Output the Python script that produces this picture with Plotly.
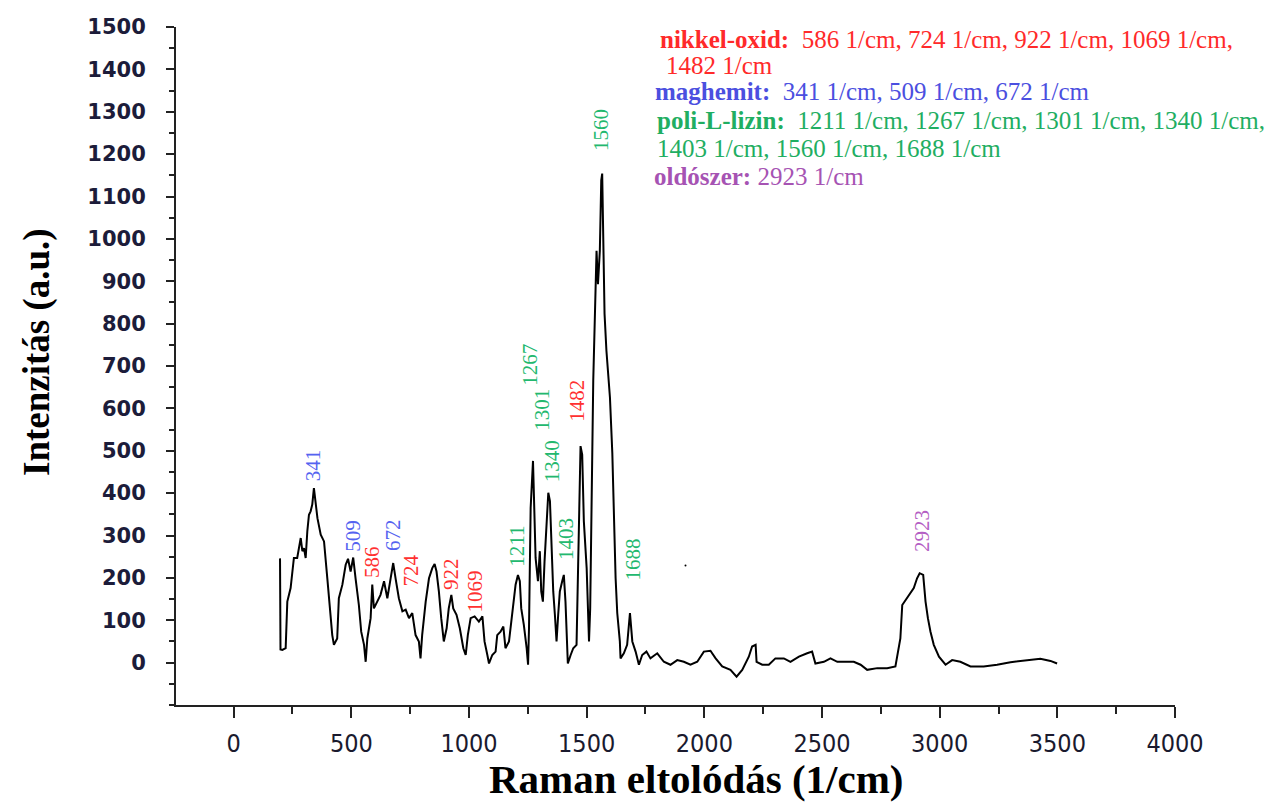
import plotly.graph_objects as go

# Raman spectrum (wavenumber in 1/cm, intensity in a.u.)
wavenumber = [
    197, 199, 207, 221, 228, 242, 256, 270, 285, 292, 299, 306, 313, 320, 327, 334,
    341, 348, 356, 370, 384, 398, 412, 419, 426, 440, 447, 462, 476, 486, 497, 508,
    518, 532, 542, 554, 561, 568, 582, 589, 596, 610, 624, 639, 653, 667, 678, 688,
    702, 717, 731, 745, 759, 773, 787, 794, 801, 816, 830, 844, 854, 862, 872, 882,
    893, 905, 914, 925, 933, 947, 961, 976, 986, 995, 1007, 1024, 1042, 1057, 1066,
    1078, 1085, 1099, 1113, 1120, 1134, 1146, 1155, 1170, 1184, 1198, 1208, 1216,
    1222, 1233, 1245, 1251, 1255, 1262, 1272, 1276, 1283, 1293, 1301, 1307, 1314,
    1321, 1330, 1337, 1344, 1350, 1358, 1365, 1372, 1379, 1386, 1396, 1403, 1410,
    1415, 1420, 1432, 1443, 1457, 1467, 1474, 1481, 1488, 1500, 1505, 1510, 1515,
    1521, 1528, 1542, 1548, 1556, 1562, 1566, 1570, 1576, 1584, 1599, 1609, 1616,
    1623, 1630, 1641, 1644, 1658, 1672, 1684, 1694, 1708, 1722, 1736, 1754, 1771,
    1800, 1828, 1856, 1885, 1913, 1941, 1970, 1998, 2026, 2048, 2076, 2111, 2137,
    2161, 2189, 2203, 2218, 2222, 2246, 2274, 2302, 2338, 2366, 2402, 2437, 2458,
    2472, 2508, 2536, 2565, 2600, 2635, 2664, 2692, 2735, 2777, 2812, 2822, 2833,
    2841, 2855, 2873, 2890, 2904, 2915, 2930, 2940, 2950, 2961, 2975, 2997, 3025,
    3053, 3088, 3131, 3187, 3244, 3301, 3357, 3428, 3471, 3499,
]
intensity = [
    246, 31, 30, 34, 144, 176, 247, 247, 294, 263, 270, 247, 310, 349, 357, 373,
    412, 373, 341, 302, 286, 199, 113, 65, 42, 57, 152, 184, 231, 245, 215, 248,
    199, 136, 73, 42, 2, 57, 105, 184, 128, 144, 160, 192, 152, 199, 235, 199,
    152, 121, 125, 105, 117, 65, 50, 10, 65, 144, 199, 223, 233, 215, 168, 105,
    50, 81, 128, 160, 128, 113, 81, 34, 18, 65, 105, 109, 97, 109, 50,
    18, -2, 18, 26, 65, 73, 85, 34, 50, 113, 184, 207, 192,
    128, 89, 34, -5, 81, 365, 476, 397, 247, 192, 263, 168, 144,
    239, 326, 401, 381, 286, 168, 113, 50, 113, 168, 192, 207, 144,
    50, -2, 18, 34, 42, 334, 511, 491, 334, 223, 113, 50, 128,
    341, 665, 972, 893, 972, 1138, 1154, 972, 823, 736, 625, 495, 314,
    199, 117, 50, 10, 22, 42, 117, 50, 26, -5, 18, 26, 10,
    22, 2, -5, 6, 2, -5, 2, 26, 28, 10, -9, -17, -33,
    -17, 14, 38, 42, 2, -5, -5, 10, 10, 2, 14, 22, 26,
    -2, 2, 10, 2, 2, 2, -5, -17, -13, -13, -9, 26, 57,
    136, 148, 164, 176, 199, 211, 207, 144, 105, 73, 42, 14, -5,
    6, 2, -9, -9, -5, 1, 4, 9, 4, -2,
]

# Assigned bands: label text, label baseline height (a.u.), horizontal nudge (px)
peak_labels = ["341", "509", "586", "672", "724", "922", "1069", "1211", "1267",
               "1301", "1340", "1403", "1482", "1560", "1688", "2923"]
peak_groups = ["maghemit", "maghemit", "nikkel-oxid", "maghemit", "nikkel-oxid",
               "nikkel-oxid", "nikkel-oxid", "poli-L-lizin", "poli-L-lizin",
               "poli-L-lizin", "poli-L-lizin", "poli-L-lizin", "nikkel-oxid",
               "poli-L-lizin", "poli-L-lizin", "oldószer"]
label_base = [423, 258, 194, 258, 175, 166, 114, 222, 648, 542, 421, 237, 565,
              1202, 189, 255]
label_nudge = [-1, 0, 1, 1, 7, 1, -10, -2, -2, 2, 3, 2, -5, 0, 2, 0]

# Stray point near 1920 1/cm
stray_x = [1920]
stray_y = [229]

x_ticks = [0, 500, 1000, 1500, 2000, 2500, 3000, 3500, 4000]
y_ticks = list(range(0, 1501, 100))

group_colors = {
    "nikkel-oxid": "#ff2a2a",
    "maghemit": "#4b4fe0",
    "poli-L-lizin": "#1fae62",
    "oldószer": "#a653b3",
}
label_colors = {
    "nikkel-oxid": "#ff3030",
    "maghemit": "#5563f0",
    "poli-L-lizin": "#22b86e",
    "oldószer": "#b45fc4",
}

serif = "Liberation Serif, Times New Roman, serif"

fig = go.Figure()
fig.add_trace(go.Scatter(
    x=wavenumber, y=intensity, mode="lines",
    line=dict(color="black", width=2), showlegend=False, hoverinfo="skip",
))
fig.add_trace(go.Scatter(
    x=stray_x, y=stray_y, mode="markers",
    marker=dict(color="black", size=2), showlegend=False, hoverinfo="skip",
))

for text, grp, base, nudge in zip(peak_labels, peak_groups, label_base, label_nudge):
    fig.add_annotation(
        x=float(text), y=base, xref="x", yref="y", text=text, showarrow=False,
        textangle=-90, xanchor="center", yanchor="bottom", xshift=nudge,
        font=dict(family=serif, size=21, color=label_colors[grp]),
    )

# Band assignment summary in the upper right
summary_lines = [
    ("nikkel-oxid:", "586 1/cm, 724 1/cm, 922 1/cm, 1069 1/cm,", 658, 40),
    (None, "1482 1/cm", 664, 66),
    ("maghemit:", "341 1/cm, 509 1/cm, 672 1/cm", 653, 92),
    ("poli-L-lizin:", "1211 1/cm, 1267 1/cm, 1301 1/cm, 1340 1/cm,", 655, 121),
    (None, "1403 1/cm, 1560 1/cm, 1688 1/cm", 655, 148),
    ("oldószer:", "2923 1/cm", 652, 176),
]
summary_groups = ["nikkel-oxid", "nikkel-oxid", "maghemit", "poli-L-lizin",
                  "poli-L-lizin", "oldószer"]

L, R, T, B = 176, 91, 27, 97
W, H = 1266, 802
pw, ph = W - L - R, H - T - B


def paper_x(px):
    return (px - L) / pw


def paper_y(py):
    return (H - B - py) / ph


for (head, body, px, py), grp in zip(summary_lines, summary_groups):
    if head is None:
        txt = body
    elif head == "oldószer:":
        txt = f"<b>{head}</b> {body}"
    else:
        txt = f"<b>{head}</b>&nbsp;&nbsp;{body}"
    fig.add_annotation(
        x=paper_x(px), y=paper_y(py), xref="paper", yref="paper",
        text=txt, showarrow=False, xanchor="left", yanchor="middle",
        font=dict(family=serif, size=25, color=group_colors[grp]),
    )

# Axis titles
fig.add_annotation(
    x=paper_x(37), y=paper_y(352), xref="paper", yref="paper",
    text="<b>Intenzitás (a.u.)</b>", showarrow=False, textangle=-90,
    xanchor="center", yanchor="middle",
    font=dict(family=serif, size=37, color="black"),
)
fig.add_annotation(
    x=paper_x(696), y=paper_y(779), xref="paper", yref="paper",
    text="<b>Raman eltolódás (1/cm)</b>", showarrow=False,
    xanchor="center", yanchor="middle",
    font=dict(family=serif, size=41, color="black"),
)

fig.update_layout(
    width=W, height=H,
    margin=dict(l=L, r=R, t=T, b=B, autoexpand=False),
    paper_bgcolor="white", plot_bgcolor="white",
    showlegend=False,
)
fig.update_xaxes(
    range=[-245, 4000], tickvals=x_ticks, ticktext=[str(v) for v in x_ticks],
    showgrid=False, zeroline=False, showline=True, linecolor="#222", linewidth=2,
    ticks="outside", ticklen=11, tickwidth=2, tickcolor="#222",
    minor=dict(dtick=250, tick0=0, ticks="outside", ticklen=7, tickwidth=2,
               tickcolor="#222", showgrid=False),
    tickfont=dict(family="Liberation Sans Narrow, Arial Narrow, DejaVu Sans Condensed",
                  size=25, color="#1a1a2e"),
    ticklabelstandoff=4,
)
fig.update_yaxes(
    range=[-100, 1500], tickvals=y_ticks, ticktext=[str(v) for v in y_ticks],
    showgrid=False, zeroline=False, showline=True, linecolor="#222", linewidth=2,
    ticks="outside", ticklen=8, tickwidth=2, tickcolor="#222",
    minor=dict(dtick=50, tick0=0, ticks="outside", ticklen=5, tickwidth=2,
               tickcolor="#222", showgrid=False),
    tickfont=dict(family="DejaVu Sans", size=21, color="#1c1c3a", weight="bold"),
    ticklabelstandoff=16,
)

fig.write_html("out.html")
